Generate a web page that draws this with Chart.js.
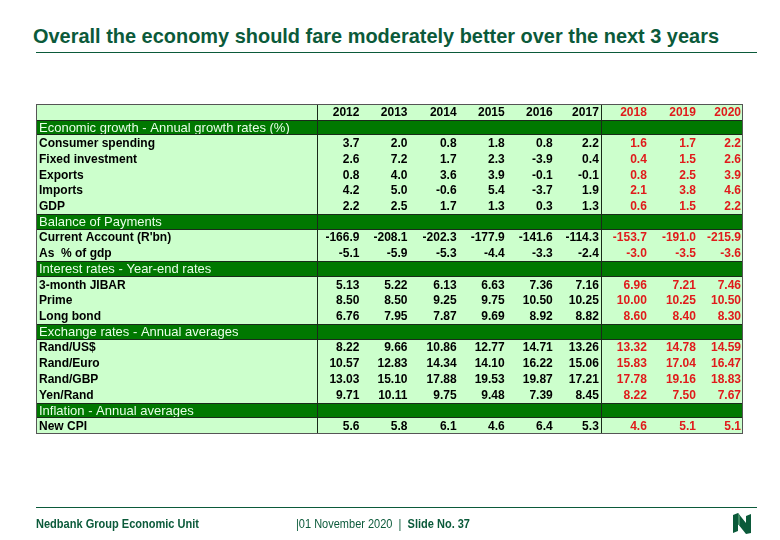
<!DOCTYPE html>
<html>
<head>
<meta charset="utf-8">
<script src="https://cdn.jsdelivr.net/npm/chart.js@4/dist/chart.umd.min.js"></script>
<style>
  body { margin: 0; background: #fff; }
  #wrap { position: relative; width: 780px; height: 540px; overflow: hidden; }
  #myTable { position: absolute; left: 0; top: 0; }
  .title { position: absolute; left: 33px; top: 24px; font: bold 21px "Liberation Sans", Arial, sans-serif; color: #0b5a3a; white-space: nowrap; transform-origin: 0 0; }
  .rule { position: absolute; left: 36px; width: 721px; height: 1px; background: #0b5a3a; }
  .foot { position: absolute; top: 517px; font: 12px "Liberation Sans", Arial, sans-serif; color: #0b5a3a; white-space: nowrap; transform-origin: 0 0; }
  .logo { position: absolute; left: 731px; top: 512px; }
</style>
</head>
<body>
<div id="wrap">
  <div class="title" data-w="686">Overall the economy should fare moderately better over the next 3 years</div>
  <div class="rule" style="top:52px"></div>
  <canvas id="myTable" width="780" height="540"></canvas>
  <div class="rule" style="top:507px"></div>
  <div class="foot" data-w="163" style="left:36px;font-weight:bold">Nedbank Group Economic Unit</div>
  <div class="foot" data-w="174" style="left:296px">|01 November 2020 &nbsp;| &nbsp;<b>Slide No. 37</b></div>
  <svg class="logo" width="22" height="23" viewBox="0 0 22 23">
    <polygon points="2,3 7,1 15,11 15,4 20,2 20,21 15,22 7,12 7,19 2,21" fill="#0b5a3a"/>
    <polygon points="7,1 9,4 9,14 7,12" fill="#3f8a63"/>
  </svg>
</div>

<script>
// squeeze the slide texts to the narrow width they have in the original
document.querySelectorAll('[data-w]').forEach(el => {
  el.style.transform = 'scaleX(' + (el.dataset.w / el.getBoundingClientRect().width) + ')';
});

// years, with 2018 onwards being forecasts (shown in red)
let years = ['2012', '2013', '2014', '2015', '2016', '2017', '2018', '2019', '2020'];
let firstForecast = 6;

// Economic growth - Annual growth rates (%)
let consumerSpending = [3.7, 2.0, 0.8, 1.8, 0.8, 2.2, 1.6, 1.7, 2.2];
let fixedInvestment = [2.6, 7.2, 1.7, 2.3, -3.9, 0.4, 0.4, 1.5, 2.6];
let exportsGrowth = [0.8, 4.0, 3.6, 3.9, -0.1, -0.1, 0.8, 2.5, 3.9];
let importsGrowth = [4.2, 5.0, -0.6, 5.4, -3.7, 1.9, 2.1, 3.8, 4.6];
let gdpGrowth = [2.2, 2.5, 1.7, 1.3, 0.3, 1.3, 0.6, 1.5, 2.2];

// Balance of Payments
let currentAccount = [-166.9, -208.1, -202.3, -177.9, -141.6, -114.3, -153.7, -191.0, -215.9];
let currentAccountPctGdp = [-5.1, -5.9, -5.3, -4.4, -3.3, -2.4, -3.0, -3.5, -3.6];

// Interest rates - Year-end rates
let jibar3m = [5.13, 5.22, 6.13, 6.63, 7.36, 7.16, 6.96, 7.21, 7.46];
let prime = [8.50, 8.50, 9.25, 9.75, 10.50, 10.25, 10.00, 10.25, 10.50];
let longBond = [6.76, 7.95, 7.87, 9.69, 8.92, 8.82, 8.60, 8.40, 8.30];

// Exchange rates - Annual averages
let randUsd = [8.22, 9.66, 10.86, 12.77, 14.71, 13.26, 13.32, 14.78, 14.59];
let randEuro = [10.57, 12.83, 14.34, 14.10, 16.22, 15.06, 15.83, 17.04, 16.47];
let randGbp = [13.03, 15.10, 17.88, 19.53, 19.87, 17.21, 17.78, 19.16, 18.83];
let yenRand = [9.71, 10.11, 9.75, 9.48, 7.39, 8.45, 8.22, 7.50, 7.67];

// Inflation - Annual averages
let newCpi = [5.6, 5.8, 6.1, 4.6, 6.4, 5.3, 4.6, 5.1, 5.1];

// table rows, top to bottom
let rows = [
  { kind: 'head', label: '' },
  { kind: 'section', label: 'Economic growth - Annual growth rates (%)' },
  { label: 'Consumer spending', values: consumerSpending, dp: 1 },
  { label: 'Fixed investment', values: fixedInvestment, dp: 1 },
  { label: 'Exports', values: exportsGrowth, dp: 1 },
  { label: 'Imports', values: importsGrowth, dp: 1 },
  { label: 'GDP', values: gdpGrowth, dp: 1 },
  { kind: 'section', label: 'Balance of Payments' },
  { label: "Current Account (R'bn)", values: currentAccount, dp: 1 },
  { label: 'As  % of gdp', values: currentAccountPctGdp, dp: 1 },
  { kind: 'section', label: 'Interest rates - Year-end rates' },
  { label: '3-month JIBAR', values: jibar3m, dp: 2 },
  { label: 'Prime', values: prime, dp: 2 },
  { label: 'Long bond', values: longBond, dp: 2 },
  { kind: 'section', label: 'Exchange rates - Annual averages' },
  { label: 'Rand/US$', values: randUsd, dp: 2 },
  { label: 'Rand/Euro', values: randEuro, dp: 2 },
  { label: 'Rand/GBP', values: randGbp, dp: 2 },
  { label: 'Yen/Rand', values: yenRand, dp: 2 },
  { kind: 'section', label: 'Inflation - Annual averages' },
  { label: 'New CPI', values: newCpi, dp: 1 }
];

// x axis runs in column units: label column is 6 wide, each year 1 wide
const LABEL_COLS = 6;
const X_MAX = LABEL_COLS + years.length;
// how far each year's numbers sit in from the column's right edge (px)
const inset = [6, 5, 3, 2, 1, 2, 1, -1, 1];

const lightGreen = '#ccffcc';
const darkGreen = '#007800';
const red = '#e01b1b';
const font = '"Liberation Sans", Arial, sans-serif';

let tableText = {
  id: 'tableText',
  afterDatasetsDraw(chart) {
    const c = chart.ctx;
    const x = chart.scales.x;
    const y = chart.scales.y;
    const band = (y.bottom - y.top) / rows.length;
    const left = x.getPixelForValue(0);
    const right = x.getPixelForValue(X_MAX);
    const colRight = i => x.getPixelForValue(LABEL_COLS + i + 1) - inset[i];

    c.save();
    c.textBaseline = 'middle';

    rows.forEach((row, r) => {
      const cy = y.getPixelForValue(r) + 0.5;
      if (row.kind === 'head') {
        c.font = 'bold 12px ' + font;
        c.textAlign = 'right';
        years.forEach((yr, i) => {
          c.fillStyle = i >= firstForecast ? red : '#000';
          c.fillText(yr, colRight(i), cy);
        });
      } else if (row.kind === 'section') {
        c.font = '13px ' + font;
        c.textAlign = 'left';
        c.fillStyle = '#e8ffe8';
        c.fillText(row.label, left + 3, cy);
      } else {
        c.font = 'bold 12px ' + font;
        c.textAlign = 'left';
        c.fillStyle = '#000';
        c.fillText(row.label, left + 3, cy);
        c.textAlign = 'right';
        row.values.forEach((v, i) => {
          c.fillStyle = i >= firstForecast ? red : '#000';
          c.fillText(v.toFixed(row.dp), colRight(i), cy);
        });
      }
    });

    // grid lines: around section rows, two column dividers and outer frame
    c.strokeStyle = '#1a2a1a';
    c.lineWidth = 1;
    c.beginPath();
    rows.forEach((row, r) => {
      if (row.kind === 'section') {
        const t = Math.round(y.getPixelForValue(r) - band / 2) + 0.5;
        const b = Math.round(y.getPixelForValue(r) + band / 2) - 0.5;
        c.moveTo(left, t); c.lineTo(right, t);
        c.moveTo(left, b); c.lineTo(right, b);
      }
    });
    [LABEL_COLS - 0.03, LABEL_COLS + firstForecast].forEach(v => {
      const px = Math.round(x.getPixelForValue(v)) + 0.5;
      c.moveTo(px, y.top); c.lineTo(px, y.bottom);
    });
    c.stroke();
    c.strokeStyle = '#555';
    c.strokeRect(Math.round(left) + 0.5, Math.round(y.top) + 0.5,
      Math.round(right - left), Math.round(y.bottom - y.top) - 1);
    c.restore();
  }
};

let ctx = document.getElementById('myTable');
let myTable = new Chart(ctx, {
  type: 'bar',
  data: {
    labels: rows.map((row, r) => row.label || 'row' + r),
    datasets: [{
      label: 'rows',
      data: rows.map(row => row.kind === 'section' ? null : [0, X_MAX]),
      backgroundColor: lightGreen
    }, {
      label: 'sections',
      data: rows.map(row => row.kind === 'section' ? [0, X_MAX] : null),
      backgroundColor: darkGreen
    }]
  },
  options: {
    indexAxis: 'y',
    responsive: false,
    animation: false,
    grouped: false,
    barPercentage: 1,
    categoryPercentage: 1,
    layout: { padding: { left: 36, top: 104, right: 38, bottom: 106 } },
    scales: {
      x: { type: 'linear', min: 0, max: X_MAX, display: false },
      y: { type: 'category', display: false }
    },
    plugins: {
      legend: { display: false },
      tooltip: { enabled: false }
    }
  },
  plugins: [tableText]
});
</script>
</body>
</html>
